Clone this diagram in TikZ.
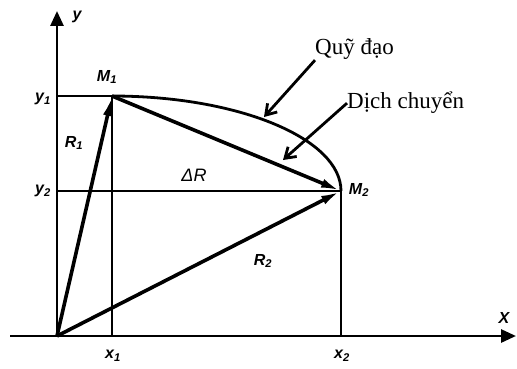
\documentclass[tikz,border=0pt]{standalone}
\usepackage{fontspec}
\setmainfont{Liberation Serif}
\newfontfamily\axfont{Liberation Sans}
\usetikzlibrary{arrows.meta,positioning}
\tikzset{
  axisline/.style={-{Triangle[length=15pt,width=13pt]}, line width=2.8pt},
  vec/.style={-{Latex[length=20pt,width=9pt]}, line width=3.6pt},
  guide/.style={line width=1.4pt},
  orbit/.style={line width=2.8pt},
  pointer/.style={-{Straight Barb[length=10pt,width=13pt]}, line width=2.8pt},
  tag/.style={font=\fontsize{23}{23}\selectfont, inner sep=0pt},
  lbl/.style={font=\axfont\bfseries\itshape\fontsize{16}{16}\selectfont, inner sep=0pt}
}
\begin{document}
\begin{tikzpicture}[x=1pt,y=-1pt]
  \useasboundingbox (0,0) rectangle (517,369);
  \coordinate (O) at (57,336);
  \coordinate (M1) at (112,96);
  \coordinate (M2) at (341,191);
  \coordinate (xs) at (10,336);
  \coordinate (xe) at (516,336);
  \coordinate (ye) at (57,11);
  \coordinate (X1) at (112,336);
  \coordinate (X2) at (341,336);
  \coordinate (Y1) at (57,96);
  \coordinate (Y2) at (57,191);
  \draw[guide] (Y1) -- (M1) -- (X1);
  \draw[guide] (Y2) -- (M2) -- (X2);
  \draw[axisline] (xs) -- (xe);
  \draw[axisline] (O) -- (ye);
  \draw[orbit] (M1) arc[start angle=-90, end angle=0, x radius=229, y radius=95];
  \draw[vec] (O) -- (M1);
  \draw[vec] (O) -- (M2);
  \draw[vec] (M1) -- (M2);
  \node[lbl] (ylab) at (77,17) {y};
  \node[lbl] (xlab) at (504,318) {X};
  \node[lbl] (x1lab) at (113,356) {x\textsubscript{1}};
  \node[lbl] (x2lab) at (342,356) {x\textsubscript{2}};
  \node[lbl] (y1lab) at (43,99) {y\textsubscript{1}};
  \node[lbl] (y2lab) at (43,191) {y\textsubscript{2}};
  \node[lbl] (m1lab) at (107,77) {M\textsubscript{1}};
  \node[lbl] (m2lab) at (359,190) {M\textsubscript{2}};
  \node[lbl] (r1lab) at (74,143) {R\textsubscript{1}};
  \node[lbl] (r2lab) at (263,261) {R\textsubscript{2}};
  \node[font=\axfont\itshape\fontsize{18}{18}\selectfont, inner sep=0pt] (dr) at (194,175) {ΔR};
  \node[tag, anchor=base west] (traj) at (315,55) {Quỹ đạo};
  \node[tag, anchor=base west] (disp) at (347,109) {Dịch chuyển};
  \coordinate (trajtip) at (264,117);
  \coordinate (disptip) at (283,160);
  \draw[pointer] (traj.south west) -- (trajtip);
  \draw[pointer] (disp.west) -- (disptip);
\end{tikzpicture}
\end{document}
